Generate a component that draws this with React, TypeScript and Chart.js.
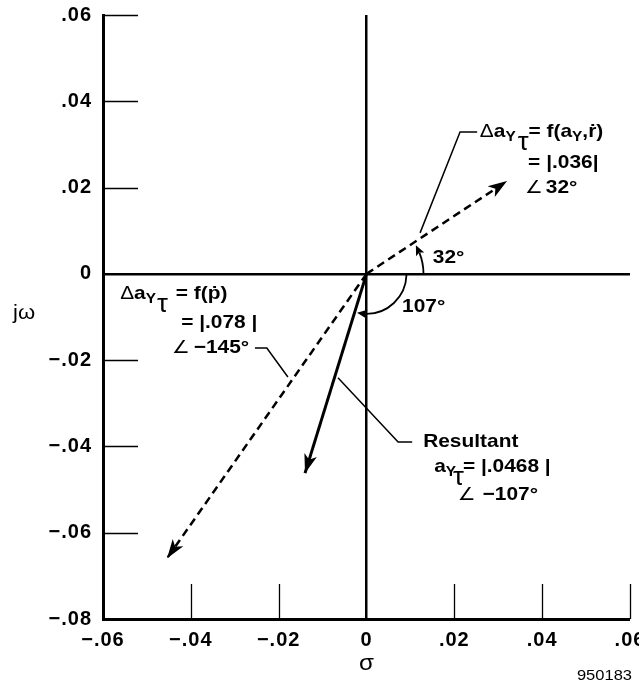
import React, { useEffect, useRef } from 'react';
import { Chart, registerables } from 'chart.js';

Chart.register(...registerables);

// ---------- data ----------
const X_TICKS = [-0.06, -0.04, -0.02, 0, 0.02, 0.04, 0.06];
const X_TICK_LABELS = ['−.06', '−.04', '−.02', '0', '.02', '.04', '.06'];
const Y_TICKS = [-0.08, -0.06, -0.04, -0.02, 0, 0.02, 0.04, 0.06];
const Y_TICK_LABELS = ['−.08', '−.06', '−.04', '−.02', '0', '.02', '.04', '.06'];

// vectors in the sigma / j-omega plane (from origin to tip)
const VEC_AYR_X = [0, 0.032];
const VEC_AYR_Y = [0, 0.0215];
const VEC_PDOT_X = [0, -0.0454];
const VEC_PDOT_Y = [0, -0.0659];
const RESULT_X = [0, -0.014];
const RESULT_Y = [0, -0.0462];

// leader lines
const LEADER_TR_X = [0.0122, 0.0213, 0.0252];
const LEADER_TR_Y = [0.0095, 0.0329, 0.0329];
const LEADER_L_X = [-0.0254, -0.0227, -0.0179];
const LEADER_L_Y = [-0.0172, -0.0172, -0.0239];
const LEADER_R_X = [-0.0065, 0.0072, 0.0104];
const LEADER_R_Y = [-0.0241, -0.039, -0.039];

const toPts = (xs: number[], ys: number[]) => xs.map((x, i) => ({ x, y: ys[i] }));

// ---------- styling helpers ----------
const FONT = '"Liberation Sans", Arial, Helvetica, "DejaVu Sans", sans-serif';
const SX = 1.1;

type Seg = { t: string; b?: boolean; s?: number; dx?: number; dy?: number };

function rich(ctx: CanvasRenderingContext2D, x: number, y: number, segs: Seg[]) {
  ctx.save();
  ctx.translate(x, y);
  ctx.scale(SX, 1);
  ctx.textAlign = 'left';
  ctx.textBaseline = 'alphabetic';
  let cx = 0;
  for (const g of segs) {
    ctx.font = `${g.b === false ? 'normal' : 'bold'} ${g.s ?? 19}px ${FONT}`;
    cx += (g.dx ?? 0) / SX;
    ctx.fillText(g.t, cx, g.dy ?? 0);
    cx += ctx.measureText(g.t).width;
  }
  ctx.restore();
}

function arrowhead(ctx: CanvasRenderingContext2D, tx: number, ty: number, ang: number, len: number, half: number, notch: number) {
  const c = Math.cos(ang), s = Math.sin(ang);
  const bx = tx - len * c, by = ty - len * s;
  ctx.beginPath();
  ctx.moveTo(tx, ty);
  ctx.lineTo(bx - half * s, by + half * c);
  ctx.lineTo(tx - (len - notch) * c, ty - (len - notch) * s);
  ctx.lineTo(bx + half * s, by - half * c);
  ctx.closePath();
  ctx.fill();
}

// text annotations: anchor in data units (left, baseline)
const ANNOTATIONS: { x: number; y: number; segs: Seg[] }[] = [
  { x: 0.0258, y: 0.0317, segs: [
    { t: 'Δ', b: false }, { t: 'a' }, { t: 'Y', s: 14, dy: 4 },
    { t: 'τ', b: false, s: 25, dy: 13, dx: 2 }, { t: '= f(a', dx: 0 }, { t: 'Y', s: 14, dy: 4 }, { t: ',ṙ)' }] },
  { x: 0.0368, y: 0.0245, segs: [{ t: '= |.036|' }] },
  { x: 0.0361, y: 0.0188, segs: [{ t: '∠', b: false, s: 18 }, { t: '32°', dx: 3 }] },

  { x: -0.0561, y: -0.0058, segs: [
    { t: 'Δ', b: false }, { t: 'a' }, { t: 'Y', s: 14, dy: 4 },
    { t: 'τ', b: false, s: 25, dy: 13, dx: 1 }, { t: '= f(ṗ)', dx: 8 }] },
  { x: -0.0422, y: -0.0126, segs: [{ t: '= |.078 |' }] },
  { x: -0.0443, y: -0.0183, segs: [{ t: '∠', b: false, s: 18 }, { t: '−145°', dx: 4 }] },

  { x: 0.0129, y: -0.0401, segs: [{ t: 'Resultant' }] },
  { x: 0.0154, y: -0.0459, segs: [
    { t: 'a' }, { t: 'Y', s: 14, dy: 4 }, { t: 'τ', b: false, s: 25, dy: 13, dx: -3 }, { t: '= |.0468 |', dx: -1 }] },
  { x: 0.0208, y: -0.0524, segs: [{ t: '∠', b: false, s: 18 }, { t: '−107°', dx: 7 }] },

  { x: 0.0151, y: 0.0025, segs: [{ t: '32°' }] },
  { x: 0.0081, y: -0.0088, segs: [{ t: '107°' }] },
];

const decor = {
  id: 'decor',
  beforeDraw(chart: any) {
    chart.ctx.letterSpacing = '1px';
  },
  afterDatasetsDraw(chart: any) {
    const ctx: CanvasRenderingContext2D = chart.ctx;
    const xs = chart.scales.x, ys = chart.scales.y, a = chart.chartArea;
    ctx.save();
    (ctx as any).letterSpacing = '0px';
    ctx.strokeStyle = '#000';
    ctx.fillStyle = '#000';
    ctx.setLineDash([]);

    // inward tick marks
    ctx.lineWidth = 1.3;
    ctx.beginPath();
    for (const v of Y_TICKS) {
      if (v === 0 || v === ys.min) continue;
      const y = Math.round(ys.getPixelForValue(v)) + 0.5;
      ctx.moveTo(a.left, y); ctx.lineTo(a.left + 35, y);
    }
    for (const v of X_TICKS) {
      if (v === 0 || v === xs.min) continue;
      const x = Math.round(xs.getPixelForValue(v)) + 0.5;
      ctx.moveTo(x, a.bottom); ctx.lineTo(x, a.bottom - 35);
    }
    ctx.stroke();

    // arrowheads on vectors
    for (const i of [0, 1, 2]) {
      const m = chart.getDatasetMeta(i);
      const p0 = m.data[0], p1 = m.data[1];
      arrowhead(ctx, p1.x, p1.y, Math.atan2(p1.y - p0.y, p1.x - p0.x), 19, 6.5, 5);
    }

    // angle arcs
    const ox = xs.getPixelForValue(0), oy = ys.getPixelForValue(0);
    const m0 = chart.getDatasetMeta(0).data[1];
    const m2 = chart.getDatasetMeta(2).data[1];
    const a1 = Math.atan2(m0.y - oy, m0.x - ox);
    const a2 = Math.atan2(m2.y - oy, m2.x - ox);
    ctx.lineWidth = 1.8;

    const R1 = 57;
    const t1 = a1 + 0.06;
    ctx.beginPath();
    ctx.arc(ox, oy, R1, 0, t1 + 8 / R1, true);
    ctx.stroke();
    arrowhead(ctx, ox + R1 * Math.cos(t1), oy + R1 * Math.sin(t1), t1 - Math.PI / 2 + 0.08, 10, 4.5, 2);

    const R2 = 40;
    const t2 = a2 - 0.06;
    ctx.beginPath();
    ctx.arc(ox, oy, R2, 0.03, t2 - 8 / R2, false);
    ctx.stroke();
    arrowhead(ctx, ox + R2 * Math.cos(t2), oy + R2 * Math.sin(t2), t2 + Math.PI / 2 - 0.1, 10, 4.5, 2);

    ctx.restore();
  },
  afterDraw(chart: any) {
    const ctx: CanvasRenderingContext2D = chart.ctx;
    const xs = chart.scales.x, ys = chart.scales.y, a = chart.chartArea;
    ctx.save();
    (ctx as any).letterSpacing = '0px';
    ctx.fillStyle = '#000';
    for (const an of ANNOTATIONS) {
      rich(ctx, xs.getPixelForValue(an.x), ys.getPixelForValue(an.y), an.segs);
    }
    // axis titles
    const plain = (t: string, x: number, y: number, size: number, align: CanvasTextAlign) => {
      ctx.save();
      ctx.translate(x, y);
      ctx.scale(SX, 1);
      ctx.font = `normal ${size}px ${FONT}`;
      ctx.textAlign = align;
      ctx.textBaseline = 'alphabetic';
      ctx.fillText(t, 0, 0);
      ctx.restore();
    };
    plain('jω', a.left - 90, ys.getPixelForValue(-0.0104), 20, 'left');
    plain('σ', xs.getPixelForValue(0), a.bottom + 51, 22, 'center');
    plain('950183', a.right + 2, a.bottom + 61, 15, 'right');
    ctx.restore();
    (ctx as any).letterSpacing = '0px';
  },
};

export default function App() {
  const ref = useRef<HTMLCanvasElement | null>(null);
  useEffect(() => {
    if (!ref.current) return;
    const lineDs = (label: string, pts: { x: number; y: number }[], width: number, dash: number[]) => ({
      label,
      data: pts,
      showLine: true,
      borderColor: '#000',
      backgroundColor: '#000',
      borderWidth: width,
      borderDash: dash,
      pointRadius: 0,
      tension: 0,
      fill: false,
    });
    const chart = new Chart(ref.current, {
      type: 'scatter',
      data: {
        datasets: [
          lineDs('Δa f(aY, r)', toPts(VEC_AYR_X, VEC_AYR_Y), 2.5, [8, 5]),
          lineDs('Δa f(p)', toPts(VEC_PDOT_X, VEC_PDOT_Y), 2.5, [8, 5]),
          lineDs('Resultant', toPts(RESULT_X, RESULT_Y), 3, []),
          lineDs('leader1', toPts(LEADER_TR_X, LEADER_TR_Y), 1.5, []),
          lineDs('leader2', toPts(LEADER_L_X, LEADER_L_Y), 1.5, []),
          lineDs('leader3', toPts(LEADER_R_X, LEADER_R_Y), 1.5, []),
        ] as any,
      },
      options: {
        animation: false,
        responsive: false,
        devicePixelRatio: 1,
        events: [],
        layout: { padding: { left: 0, top: 15, right: 9, bottom: 0 } },
        plugins: { legend: { display: false }, tooltip: { enabled: false }, title: { display: false } },
        scales: {
          x: {
            type: 'linear',
            position: 'bottom',
            min: -0.06,
            max: 0.06,
            afterBuildTicks: (s: any) => { s.ticks = X_TICKS.map((v) => ({ value: v })); },
            afterFit: (s: any) => { s.height = 62; s.paddingLeft = 0; s.paddingRight = 0; },
            ticks: {
              autoSkip: false,
              maxRotation: 0,
              padding: 9,
              color: '#000',
              font: { family: FONT, size: 20, weight: 'bold' },
              callback: (_v: any, i: number) => X_TICK_LABELS[i],
            },
            grid: {
              drawTicks: false,
              color: (c: any) => (c.tick && c.tick.value === 0 ? '#000' : 'rgba(0,0,0,0)'),
              lineWidth: (c: any) => (c.tick && c.tick.value === 0 ? 2.5 : 0),
            },
            border: { display: true, color: '#000', width: 3 },
          },
          y: {
            type: 'linear',
            position: 'left',
            min: -0.08,
            max: 0.06,
            afterBuildTicks: (s: any) => { s.ticks = Y_TICKS.map((v) => ({ value: v })); },
            afterFit: (s: any) => { s.width = 103; s.paddingTop = 0; s.paddingBottom = 0; },
            ticks: {
              autoSkip: false,
              padding: 11,
              color: '#000',
              font: { family: FONT, size: 20, weight: 'bold' },
              callback: (_v: any, i: number) => Y_TICK_LABELS[i],
            },
            grid: {
              drawTicks: false,
              color: (c: any) => (c.tick && c.tick.value === 0 ? '#000' : 'rgba(0,0,0,0)'),
              lineWidth: (c: any) => (c.tick && c.tick.value === 0 ? 2.5 : 0),
            },
            border: { display: true, color: '#000', width: 3 },
          },
        },
      } as any,
      plugins: [decor],
    });
    return () => chart.destroy();
  }, []);
  return (
    <div style={{ position: 'fixed', left: 0, top: 0, width: 639, height: 681, background: '#fff' }}>
      <canvas ref={ref} width={639} height={681} style={{ display: 'block', width: 639, height: 681 }} />
    </div>
  );
}
